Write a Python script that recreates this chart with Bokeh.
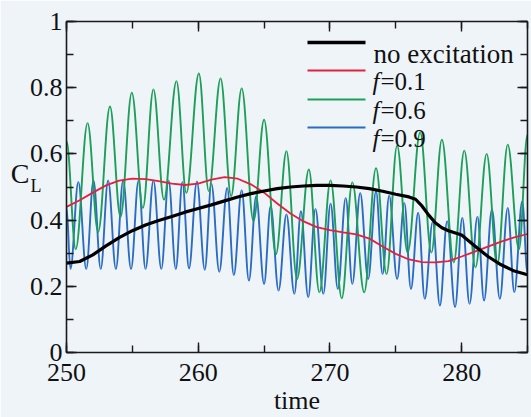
import numpy as np
from bokeh.plotting import figure
from bokeh.models import (Range1d, LinearAxis, SingleIntervalTicker, FixedTicker, Label,
                          BoxAnnotation, CustomJSTickFormatter)
from bokeh.embed import file_html
from bokeh.resources import INLINE

# ---------------- data ----------------
noexc_t = [250, 251, 252, 253, 254, 255, 256, 257, 258, 259, 260, 261, 262, 263,
           264, 265, 266, 267, 268, 269, 270, 271, 272, 273, 274, 275, 276, 276.5,
           277, 277.5, 278, 278.5, 279, 280, 281, 282, 283, 284, 285]
noexc_v = [0.270, 0.275, 0.295, 0.322, 0.347, 0.368, 0.385, 0.399, 0.411, 0.424,
           0.435, 0.446, 0.458, 0.470, 0.480, 0.488, 0.495, 0.500, 0.503, 0.505,
           0.505, 0.503, 0.500, 0.495, 0.487, 0.478, 0.470, 0.463, 0.442, 0.415,
           0.392, 0.377, 0.368, 0.355, 0.322, 0.290, 0.265, 0.246, 0.235]

f01_t = [250, 251, 252, 253, 254, 255, 256, 257, 258, 259, 260, 261, 262, 263,
         264, 265, 266, 267, 268, 269, 270, 271, 272, 273, 274, 275, 276, 277,
         278, 279, 280, 281, 282, 283, 284, 285]
f01_v = [0.440, 0.460, 0.483, 0.505, 0.519, 0.525, 0.524, 0.518, 0.510, 0.506,
         0.510, 0.522, 0.530, 0.525, 0.508, 0.483, 0.450, 0.420, 0.396, 0.379,
         0.370, 0.363, 0.357, 0.344, 0.320, 0.298, 0.281, 0.273, 0.272, 0.276,
         0.290, 0.305, 0.320, 0.335, 0.348, 0.358]

# extrema (peaks / troughs) of the oscillating series
f06_t = [250.0, 250.7, 251.6, 252.4, 253.3, 254.1, 254.96, 255.8, 256.6, 257.4,
         258.35, 259.1, 260.05, 260.8, 261.7, 262.5, 263.3, 264.2, 265.0, 265.9,
         266.7, 267.5, 268.4, 269.2, 270.05, 270.9, 271.7, 272.6, 273.5, 274.3,
         275.1, 275.9, 276.85, 277.7, 278.5, 279.4, 280.2, 281.05, 281.9, 282.7,
         283.5, 284.35, 285.0]
f06_v = [0.638, 0.312, 0.693, 0.364, 0.743, 0.410, 0.785, 0.437, 0.795, 0.462,
         0.820, 0.482, 0.843, 0.488, 0.828, 0.473, 0.798, 0.397, 0.703, 0.297,
         0.608, 0.222, 0.553, 0.182, 0.520, 0.164, 0.514, 0.182, 0.557, 0.237,
         0.625, 0.302, 0.665, 0.302, 0.643, 0.272, 0.610, 0.257, 0.600, 0.264,
         0.628, 0.312, 0.658]

f09_t = [250.0, 250.3, 250.9, 251.5, 252.05, 252.6, 253.16, 253.75, 254.3, 254.9,
         255.47, 256.0, 256.6, 257.2, 257.75, 258.3, 258.8, 259.3, 259.9, 260.5,
         261.0, 261.6, 262.2, 262.7, 263.3, 263.85, 264.4, 265.0, 265.5, 266.1,
         266.7, 267.3, 267.8, 268.35, 268.9, 269.5, 270.05, 270.6, 271.2, 271.7,
         272.3, 272.9, 273.5, 274.0, 274.5, 275.1, 275.65, 276.15, 276.7, 277.2,
         277.8, 278.35, 278.9, 279.5, 280.05, 280.6, 281.2, 281.7, 282.3, 282.9,
         283.5, 284.0, 284.6, 285.0]
f09_v = [0.440, 0.252, 0.515, 0.252, 0.520, 0.252, 0.520, 0.252, 0.520, 0.252,
         0.520, 0.252, 0.520, 0.252, 0.520, 0.252, 0.515, 0.254, 0.517, 0.250,
         0.510, 0.244, 0.497, 0.234, 0.490, 0.217, 0.472, 0.207, 0.442, 0.187,
         0.417, 0.177, 0.427, 0.167, 0.434, 0.177, 0.450, 0.192, 0.467, 0.207,
         0.482, 0.222, 0.487, 0.237, 0.474, 0.222, 0.452, 0.192, 0.422, 0.162,
         0.394, 0.142, 0.397, 0.137, 0.407, 0.147, 0.410, 0.157, 0.432, 0.162,
         0.437, 0.182, 0.457, 0.240]

legend_labels = ["no excitation", "=0.1", "=0.6", "=0.9"]
x_title = "time"
y_title_main = "C"
y_title_sub = "L"

# ---------------- styles ----------------
BG = "#eff4f9"
SERIF = "Liberation Serif"
INK = "#111111"
C_BLACK = "#000000"
C_RED = "#e2213c"
C_GREEN = "#1c9f58"
C_BLUE = "#2a6cc4"

p = figure(width=531, height=417, output_backend="svg", toolbar_location=None,
           x_range=Range1d(250, 285), y_range=Range1d(0, 1),
           min_border_left=66, min_border_right=4, min_border_top=21,
           min_border_bottom=63,
           background_fill_color=BG, border_fill_color=BG, outline_line_color=None)
p.grid.visible = False

xt = SingleIntervalTicker(interval=10, num_minor_ticks=2)
yt = SingleIntervalTicker(interval=0.2, num_minor_ticks=2)
fmt = CustomJSTickFormatter(code="return String(Math.round(tick*10)/10);")


def style_axis(ax, labels=True):
    ax.axis_line_color = "#1a1a1a"
    ax.axis_line_width = 1.6
    ax.major_tick_line_color = "#1a1a1a"
    ax.minor_tick_line_color = "#1a1a1a"
    ax.major_tick_line_width = 1.4
    ax.minor_tick_line_width = 1.4
    ax.major_tick_in = 10
    ax.major_tick_out = 0
    ax.minor_tick_in = 7
    ax.minor_tick_out = 0
    ax.major_label_text_font = SERIF
    ax.major_label_text_font_size = "26px"
    ax.major_label_text_color = INK
    if not labels:
        ax.major_label_text_font_size = "0px"
        ax.major_label_text_alpha = 0


p.xaxis.ticker = xt
p.yaxis.ticker = yt
p.yaxis.formatter = fmt
style_axis(p.xaxis[0])
style_axis(p.yaxis[0])
p.xaxis.major_label_standoff = 11
p.xaxis.major_label_text_line_height = 0.7
p.yaxis.major_label_standoff = 4
p.xaxis.axis_label = x_title
p.xaxis.axis_label_text_font = SERIF
p.xaxis.axis_label_text_font_style = "normal"
p.xaxis.axis_label_text_font_size = "26px"
p.xaxis.axis_label_text_color = INK
p.xaxis.axis_label_text_line_height = 0.7
p.xaxis.axis_label_standoff = 2

top_ax = LinearAxis(ticker=xt)
right_ax = LinearAxis(ticker=yt)
style_axis(top_ax, labels=False)
style_axis(right_ax, labels=False)
p.add_layout(top_ax, "above")
p.add_layout(right_ax, "right")

# y title "C_L": two label-only axes stacked left of the main axis
sub_pos, main_pos = 0.503, 0.542


def title_axis(text, pos, size, standoff):
    ax = LinearAxis(ticker=FixedTicker(ticks=[pos], minor_ticks=[]),
                    major_label_overrides={pos: text})
    ax.axis_line_color = None
    ax.major_tick_line_color = None
    ax.minor_tick_line_color = None
    ax.major_tick_in = 0
    ax.major_tick_out = 0
    ax.major_label_text_font = SERIF
    ax.major_label_text_font_size = size
    ax.major_label_text_color = INK
    try:
        ax.major_label_standoff = standoff
    except Exception:
        ax.major_label_standoff = 0
    p.add_layout(ax, "left")


title_axis(y_title_sub, sub_pos, "18px", -15)
title_axis(y_title_main, main_pos, "28px", -3)


def bezier_series(t, v, color, width):
    t = np.asarray(t, dtype=float)
    v = np.asarray(v, dtype=float)
    dt = t[1:] - t[:-1]
    p.bezier(x0=t[:-1], y0=v[:-1], x1=t[1:], y1=v[1:],
             cx0=t[:-1] + 0.364 * dt, cy0=v[:-1],
             cx1=t[1:] - 0.364 * dt, cy1=v[1:],
             line_color=color, line_width=width)


bezier_series(f09_t, f09_v, C_BLUE, 1.9)
bezier_series(f06_t, f06_v, C_GREEN, 1.9)
p.line(f01_t, f01_v, line_color=C_RED, line_width=1.8, line_join="round")
p.line(noexc_t, noexc_v, line_color=C_BLACK, line_width=3.2, line_join="round")

# ---------------- legend (manual, to allow an italic f) ----------------
rows_y = [310, 282, 253, 225]
colors = [C_BLACK, C_RED, C_GREEN, C_BLUE]
thick = [3.4, 2.2, 2.2, 2.2]
for i, (yy, col, th, lab) in enumerate(zip(rows_y, colors, thick, legend_labels)):
    p.add_layout(BoxAnnotation(left=241, right=299, bottom=yy - th / 2, top=yy + th / 2,
                               left_units="screen", right_units="screen",
                               bottom_units="screen", top_units="screen",
                               fill_color=col, fill_alpha=1, line_color=None,
                               level="overlay"))
    if i == 0:
        p.add_layout(Label(x=307, y=yy - 11, x_units="screen", y_units="screen",
                           text=lab, text_font=SERIF, text_font_size="27px",
                           text_color=INK, text_baseline="alphabetic"))
    else:
        p.add_layout(Label(x=306, y=yy - 11, x_units="screen", y_units="screen",
                           text="f", text_font=SERIF, text_font_style="italic",
                           text_font_size="25px", text_color=INK,
                           text_baseline="alphabetic"))
        p.add_layout(Label(x=314, y=yy - 11, x_units="screen", y_units="screen",
                           text=lab, text_font=SERIF, text_font_size="25px",
                           text_color=INK, text_baseline="alphabetic"))

open("out.html", "w").write(file_html(p, INLINE))
